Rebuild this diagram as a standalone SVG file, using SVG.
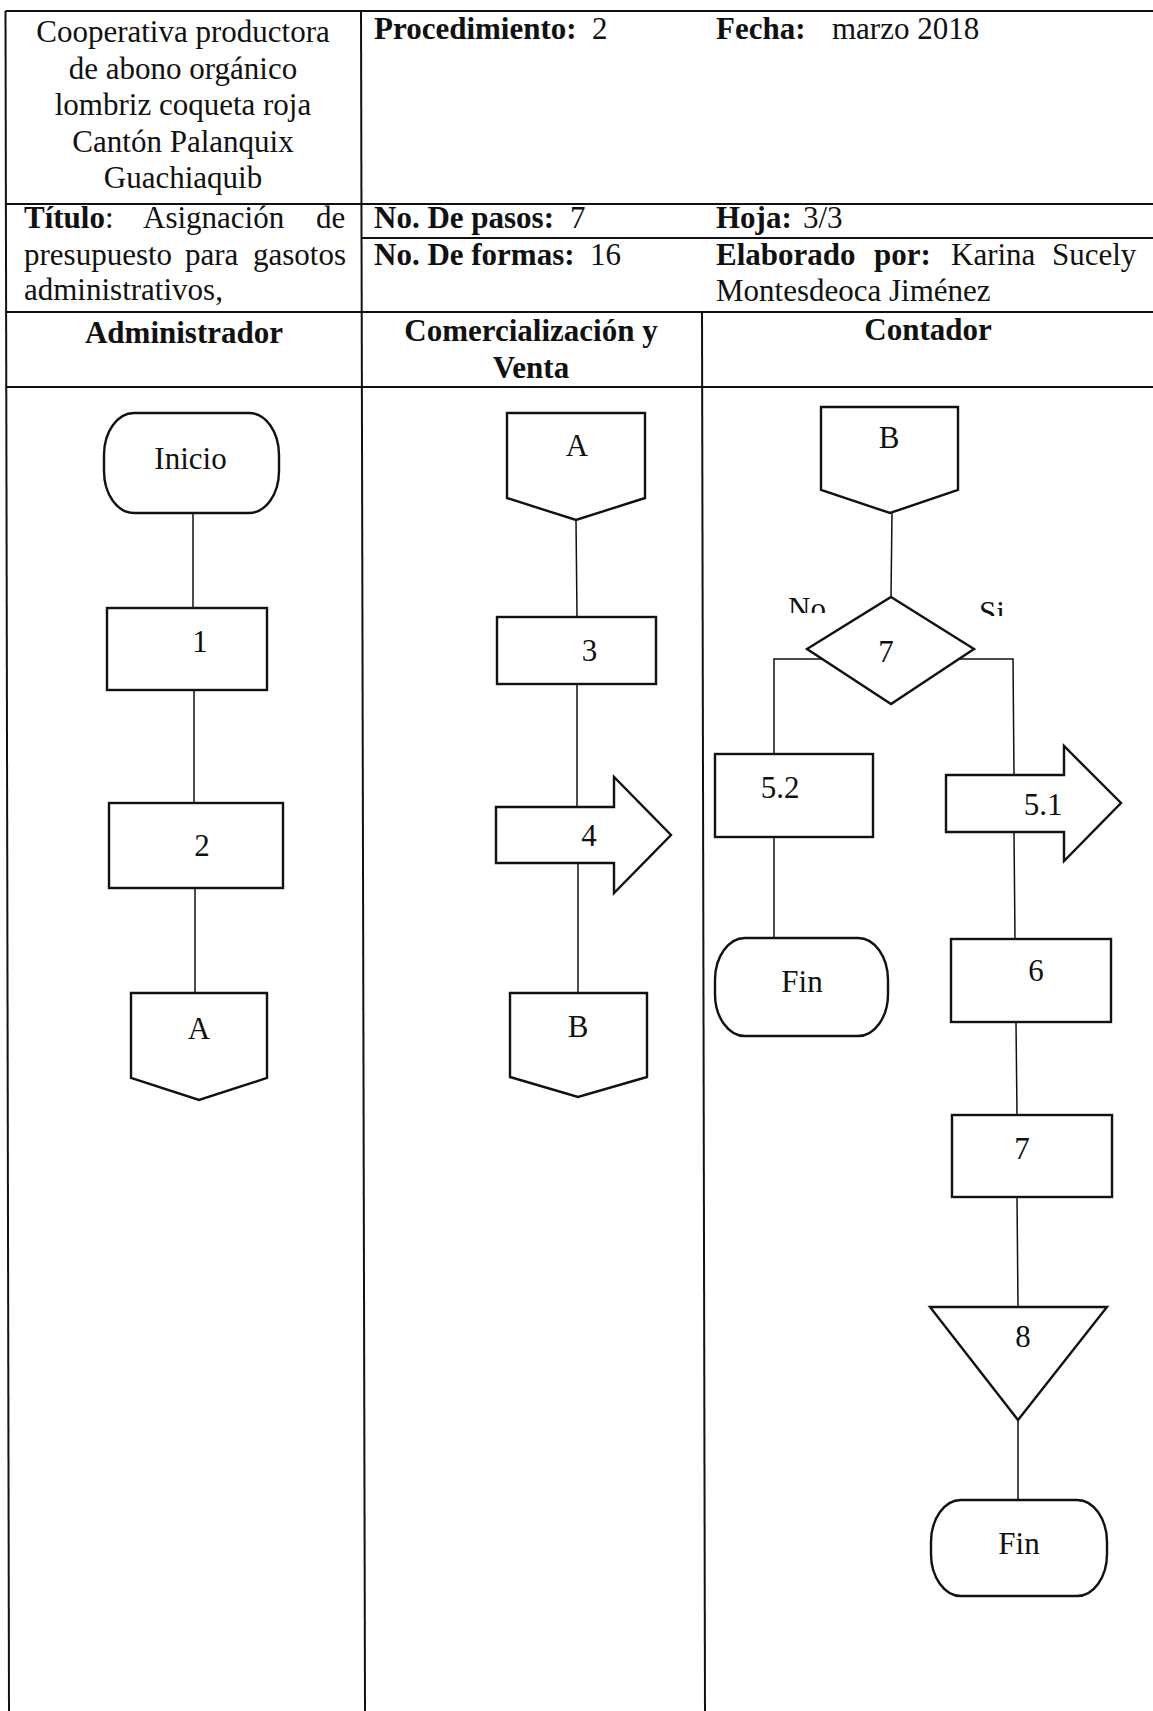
<svg xmlns="http://www.w3.org/2000/svg" width="1153" height="1711" viewBox="0 0 1153 1711">
<style>
text{font-family:"Liberation Serif","Times New Roman",serif;font-size:31px;fill:#111}
.b{font-weight:bold}
.c{text-anchor:middle}
.grid{stroke:#111;stroke-width:2;fill:none}
.shape{fill:#fff;stroke:#111;stroke-width:2.4}
.conn{stroke:#111;stroke-width:1.5;fill:none}
</style>
<defs>
<clipPath id="clipNo"><rect x="770" y="580" width="70" height="33"/></clipPath>
<clipPath id="clipSi"><rect x="960" y="585" width="60" height="31"/></clipPath>
</defs>
<rect width="1153" height="1711" fill="#fff"/>

<g id="table">
<line class="grid" x1="5.5" y1="11" x2="1153" y2="11"/>
<line class="grid" x1="5.5" y1="204" x2="1153" y2="204"/>
<line class="grid" x1="362" y1="238" x2="1153" y2="238"/>
<line class="grid" x1="5.5" y1="312" x2="1153" y2="312"/>
<line class="grid" x1="5.5" y1="387" x2="1153" y2="387"/>
<line class="grid" x1="5.5" y1="11" x2="9" y2="1711"/>
<line class="grid" x1="361" y1="11" x2="365" y2="1711"/>
<line class="grid" x1="702" y1="312" x2="705" y2="1711"/>

<text class="c" x="183" y="42">Cooperativa productora</text>
<text class="c" x="183" y="78.5">de abono orgánico</text>
<text class="c" x="183" y="115">lombriz coqueta roja</text>
<text class="c" x="183" y="151.5">Cantón Palanquix</text>
<text class="c" x="183" y="188">Guachiaquib</text>

<text x="374" y="39"><tspan class="b">Procedimiento:</tspan><tspan x="592">2</tspan></text>
<text x="716" y="39"><tspan class="b">Fecha:</tspan><tspan x="832">marzo 2018</tspan></text>

<text x="24" y="228"><tspan class="b">Título</tspan><tspan>:</tspan><tspan x="143">Asignación</tspan><tspan x="316">de</tspan></text>
<text x="24" y="265">presupuesto<tspan x="185">para</tspan><tspan x="253">gasotos</tspan></text>
<text x="24" y="300">administrativos,</text>

<text x="374" y="228"><tspan class="b">No. De pasos:</tspan><tspan x="570">7</tspan></text>
<text x="374" y="265"><tspan class="b">No. De formas:</tspan><tspan x="590">16</tspan></text>
<text x="716" y="228"><tspan class="b">Hoja:</tspan><tspan x="803">3/3</tspan></text>
<text x="716" y="265"><tspan class="b">Elaborado</tspan><tspan class="b" x="874">por:</tspan><tspan x="951">Karina</tspan><tspan x="1052">Sucely</tspan></text>
<text x="716" y="301">Montesdeoca Jiménez</text>

<text class="c b" x="184" y="343">Administrador</text>
<text class="c b" x="531" y="341">Comercialización y</text>
<text class="c b" x="531" y="378">Venta</text>
<text class="c b" x="928" y="340">Contador</text>
</g>

<g id="connectors">
<line class="conn" x1="193" y1="513" x2="193" y2="608"/>
<line class="conn" x1="194" y1="690" x2="194" y2="803"/>
<line class="conn" x1="195" y1="888" x2="195" y2="993"/>
<line class="conn" x1="576" y1="520" x2="577" y2="617"/>
<line class="conn" x1="577" y1="684" x2="577" y2="807"/>
<line class="conn" x1="578" y1="863" x2="578" y2="993"/>
<line class="conn" x1="892" y1="513" x2="891" y2="597"/>
<polyline class="conn" points="822,659 774,659 774,754"/>
<polyline class="conn" points="959,659 1013,659 1014,775"/>
<line class="conn" x1="774" y1="837" x2="774" y2="938"/>
<line class="conn" x1="1014" y1="832" x2="1015" y2="939"/>
<line class="conn" x1="1016" y1="1022" x2="1017" y2="1115"/>
<line class="conn" x1="1017" y1="1197" x2="1018" y2="1307"/>
<line class="conn" x1="1018" y1="1420" x2="1018" y2="1500"/>
</g>

<g id="inicio">
<rect class="shape" x="104" y="413" width="175" height="100" rx="30" ry="42"/>
<text class="c" x="190.5" y="469">Inicio</text>
</g>
<g id="paso1">
<rect class="shape" x="107" y="608" width="160" height="82"/>
<text class="c" x="200" y="652">1</text>
</g>
<g id="paso2">
<rect class="shape" x="109" y="803" width="174" height="85"/>
<text class="c" x="202" y="856">2</text>
</g>
<g id="conectorA1">
<path class="shape" d="M131,993 H267 V1078 L199,1100 L131,1078 Z"/>
<text class="c" x="199" y="1039">A</text>
</g>

<g id="conectorA2">
<path class="shape" d="M507,413 H645 V498 L576,520 L507,498 Z"/>
<text class="c" x="577" y="456">A</text>
</g>
<g id="paso3">
<rect class="shape" x="497" y="617" width="159" height="67"/>
<text class="c" x="589.5" y="661">3</text>
</g>
<g id="paso4">
<path class="shape" d="M496,807 H614 V777 L671,835 L614,893 V863 H496 Z"/>
<text class="c" x="589" y="846">4</text>
</g>
<g id="conectorB2">
<path class="shape" d="M510,993 H647 V1077 L578,1097 L510,1077 Z"/>
<text class="c" x="578" y="1037">B</text>
</g>

<g id="conectorB3">
<path class="shape" d="M821,407 H958 V490 L890,513 L821,490 Z"/>
<text class="c" x="889" y="448">B</text>
</g>
<g id="decision7">
<polygon class="shape" points="891,597 974,649 891,704 807,649"/>
<text class="c" x="886" y="662">7</text>
<text x="788" y="619" clip-path="url(#clipNo)">No</text>
<text x="979" y="623" clip-path="url(#clipSi)">Si</text>
</g>
<g id="paso52">
<rect class="shape" x="715" y="754" width="158" height="83"/>
<text class="c" x="780" y="798">5.2</text>
</g>
<g id="fin1">
<rect class="shape" x="715" y="938" width="173" height="98" rx="30" ry="42"/>
<text class="c" x="802" y="992">Fin</text>
</g>
<g id="paso51">
<path class="shape" d="M946,775 H1064 V746 L1121,803 L1064,861 V832 H946 Z"/>
<text class="c" x="1043" y="815">5.1</text>
</g>
<g id="paso6">
<rect class="shape" x="951" y="939" width="160" height="83"/>
<text class="c" x="1036" y="981">6</text>
</g>
<g id="paso7">
<rect class="shape" x="952" y="1115" width="160" height="82"/>
<text class="c" x="1022" y="1159">7</text>
</g>
<g id="archivo8">
<polygon class="shape" points="930,1307 1107,1307 1018,1420"/>
<text class="c" x="1023" y="1347">8</text>
</g>
<g id="fin2">
<rect class="shape" x="931" y="1500" width="176" height="96" rx="30" ry="42"/>
<text class="c" x="1019" y="1554">Fin</text>
</g>
</svg>
